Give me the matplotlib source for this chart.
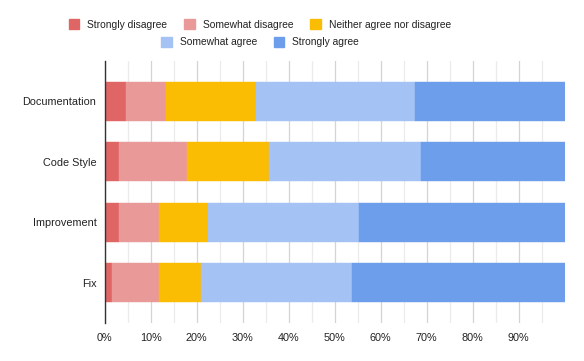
import numpy as np
import matplotlib
matplotlib.use("Agg")
from matplotlib import pyplot as plt
from matplotlib.patches import Patch

plt.rcParams['font.family'] = ['Liberation Sans', 'DejaVu Sans']

categories = ['Documentation', 'Code Style', 'Improvement', 'Fix']
strongly_disagree = [4.6, 3.0, 3.0, 1.5]
somewhat_disagree = [8.7, 14.8, 8.9, 10.4]
neither = [19.5, 18.0, 10.6, 9.0]
somewhat_agree = [34.6, 33.0, 32.8, 32.9]
strongly_agree = [32.6, 31.2, 44.7, 46.2]

series = [
    ('Strongly disagree', strongly_disagree, '#e06666'),
    ('Somewhat disagree', somewhat_disagree, '#ea9999'),
    ('Neither agree nor disagree', neither, '#fbbc04'),
    ('Somewhat agree', somewhat_agree, '#a4c2f4'),
    ('Strongly agree', strongly_agree, '#6d9eeb'),
]

fig = plt.figure(figsize=(5.84, 3.61), dpi=100)
ax = fig.add_axes([0.1793, 0.1053, 0.7877, 0.7257])

y = np.arange(len(categories))
left = np.zeros(len(categories))
handles = []
for name, vals, color in series:
    ax.barh(y, vals, left=left, height=0.647, color=color, edgecolor=color,
            linewidth=0.3, zorder=3)
    left += np.array(vals)
    handles.append(Patch(facecolor=color, edgecolor=color, label=name))

ax.set_xlim(0, 100)
ax.set_ylim(3.67, -0.67)
ax.set_yticks(y)
ax.set_yticklabels(categories, fontsize=7.8, color='#222222')
ax.set_xticks(np.arange(0, 100, 10))
ax.set_xticklabels([f'{v}%' for v in range(0, 100, 10)], fontsize=7.8, color='#222222')
ax.set_xticks(np.arange(5, 100, 10), minor=True)
ax.tick_params(axis='both', length=0, which='both')
ax.tick_params(axis='x', pad=7)
ax.tick_params(axis='y', pad=6)

ax.grid(axis='x', which='major', color='#d4d4d4', linewidth=0.9, zorder=0)
ax.grid(axis='x', which='minor', color='#ebebeb', linewidth=0.9, zorder=0)
for s in ['top', 'right', 'bottom']:
    ax.spines[s].set_visible(False)
ax.spines['left'].set_color('#333333')
ax.spines['left'].set_linewidth(1.0)
ax.spines['left'].set_zorder(4)

kw = dict(frameon=False, fontsize=7.4, handlelength=1.03, handleheight=1.03,
          handletextpad=0.78, columnspacing=1.65, borderpad=0, borderaxespad=0)
leg1 = fig.legend(handles=handles[:3], ncol=3, loc='center',
                  bbox_to_anchor=(260 / 584, 1 - 24.5 / 361), **kw)
for t in leg1.get_texts():
    t.set_color('#222222')
leg2 = fig.legend(handles=handles[3:], ncol=2, loc='center',
                  bbox_to_anchor=(260 / 584, 1 - 42.3 / 361), **kw)
for t in leg2.get_texts():
    t.set_color('#222222')

fig.savefig('out.png', dpi=100)
